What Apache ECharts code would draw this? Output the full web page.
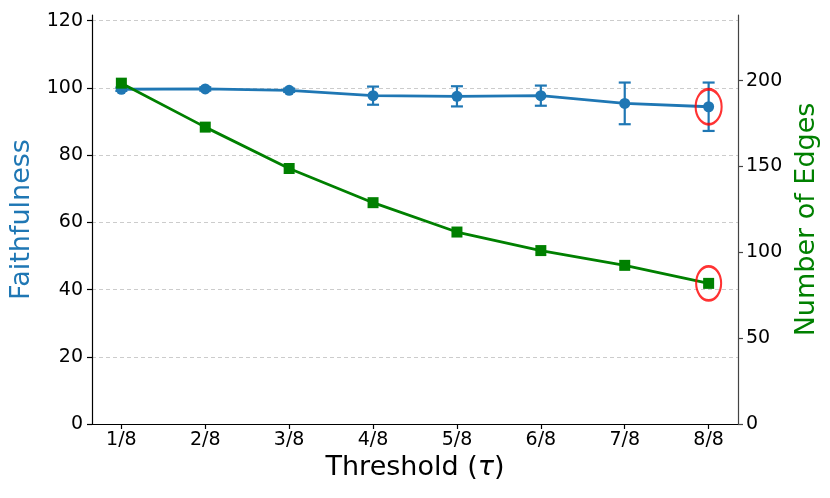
<!DOCTYPE html>
<html>
<head>
<meta charset="utf-8">
<script src="https://cdn.jsdelivr.net/npm/echarts@6/dist/echarts.min.js"></script>
<style>
  html, body { margin: 0; padding: 0; background: #fff; }
  #chart { width: 830px; height: 498px; }
</style>
</head>
<body>
<div id="chart"></div>
<script>
// ---- data ----
const categories = ['1/8', '2/8', '3/8', '4/8', '5/8', '6/8', '7/8', '8/8'];
const faithfulness = [99.6, 99.7, 99.3, 97.7, 97.5, 97.7, 95.4, 94.4];
const faithfulnessErr = [0.5, 0.5, 0.5, 2.7, 3.0, 3.0, 6.2, 7.2];
const edges = [198.5, 172.9, 148.8, 128.9, 111.8, 101.0, 92.4, 81.9];
const highlightIndex = 7;
const leftTicks = [0, 20, 40, 60, 80, 100, 120];
const rightTicks = [0, 50, 100, 150, 200];

// ---- build ----
const xPos = categories.map((c, i) => i + 1);
const faithData = xPos.map((x, i) => [x, faithfulness[i]]);
const errData = xPos.map((x, i) => [x, faithfulness[i], faithfulnessErr[i]]);
const edgeData = xPos.map((x, i) => [x, edges[i]]);

const FONT = 'DejaVu Sans';
const BLUE = '#1f77b4';
const GREEN = '#008000';

const chart = echarts.init(document.getElementById('chart'), null, { renderer: 'canvas' });
chart.setOption({
  animation: false,
  backgroundColor: '#fff',
  grid: { left: 92, right: 92, top: 15, bottom: 74, containLabel: false },
  xAxis: {
    type: 'value',
    min: 0.65,
    max: 8.35,
    name: '{a|Threshold (}{b|τ}{a|)}',
    nameLocation: 'middle',
    nameGap: 27,
    nameTextStyle: {
      rich: {
        a: { fontFamily: FONT, fontSize: 27, color: '#000' },
        b: { fontFamily: FONT, fontSize: 27, fontStyle: 'italic', color: '#000' }
      }
    },
    axisLine: { show: true, onZero: false, lineStyle: { color: '#000', width: 1.2 } },
    axisTick: { show: true, length: 5, customValues: xPos, lineStyle: { color: '#000', width: 1.2 } },
    axisLabel: {
      customValues: xPos,
      formatter: v => categories[Math.round(v) - 1] || '',
      fontFamily: FONT, fontSize: 19, color: '#000', margin: 7
    },
    splitLine: { show: false }
  },
  yAxis: [
    {
      type: 'value',
      min: 0,
      max: 121.7,
      position: 'left',
      name: 'Faithfulness',
      nameLocation: 'middle',
      nameGap: 54,
      nameTextStyle: { fontFamily: FONT, fontSize: 27, color: BLUE },
      axisLine: { show: true, lineStyle: { color: '#000', width: 1.2 } },
      axisTick: { show: true, length: 5, customValues: leftTicks, lineStyle: { color: '#000', width: 1.2 } },
      axisLabel: { customValues: leftTicks, fontFamily: FONT, fontSize: 19, color: '#000', margin: 9 },
      splitLine: { show: true, lineStyle: { color: '#cccccc', type: [4, 3], width: 1 } }
    },
    {
      type: 'value',
      min: 0,
      max: 238.2,
      position: 'right',
      name: 'Number of Edges',
      nameLocation: 'middle',
      nameGap: 50,
      nameRotate: 90,
      nameTextStyle: { fontFamily: FONT, fontSize: 27, color: GREEN },
      axisLine: { show: true, lineStyle: { color: '#444', width: 1.2 } },
      axisTick: { show: true, length: 5, customValues: rightTicks, lineStyle: { color: '#444', width: 1.2 } },
      axisLabel: { customValues: rightTicks, fontFamily: FONT, fontSize: 19, color: '#000', margin: 8 },
      splitLine: { show: false }
    }
  ],
  series: [
    {
      name: 'Faithfulness',
      type: 'line',
      yAxisIndex: 0,
      data: faithData,
      symbol: 'circle',
      symbolSize: 11,
      lineStyle: { color: BLUE, width: 2.8 },
      itemStyle: { color: BLUE },
      z: 3
    },
    {
      name: 'FaithErr',
      type: 'custom',
      yAxisIndex: 0,
      data: errData,
      renderItem: function (params, api) {
        const x = api.value(0), y = api.value(1), e = api.value(2);
        const top = api.coord([x, y + e]);
        const bot = api.coord([x, y - e]);
        const hw = 6;
        const st = { stroke: BLUE, lineWidth: 2.2 };
        return {
          type: 'group',
          children: [
            { type: 'line', shape: { x1: top[0], y1: top[1], x2: bot[0], y2: bot[1] }, style: st },
            { type: 'line', shape: { x1: top[0] - hw, y1: top[1], x2: top[0] + hw, y2: top[1] }, style: st },
            { type: 'line', shape: { x1: bot[0] - hw, y1: bot[1], x2: bot[0] + hw, y2: bot[1] }, style: st }
          ]
        };
      },
      encode: { x: 0, y: 1 },
      z: 3
    },
    {
      name: 'Edges',
      type: 'line',
      yAxisIndex: 1,
      data: edgeData,
      symbol: 'rect',
      symbolSize: 11,
      lineStyle: { color: GREEN, width: 2.8 },
      itemStyle: { color: GREEN },
      z: 4
    },
    {
      name: 'HighlightFaith',
      type: 'scatter',
      yAxisIndex: 0,
      data: [faithData[highlightIndex]],
      symbol: 'circle',
      symbolSize: [26, 35],
      itemStyle: { color: 'rgba(0,0,0,0)', borderColor: '#ff0000', borderWidth: 2.4 },
      z: 6
    },
    {
      name: 'HighlightEdges',
      type: 'scatter',
      yAxisIndex: 1,
      data: [edgeData[highlightIndex]],
      symbol: 'circle',
      symbolSize: [25, 34],
      itemStyle: { color: 'rgba(0,0,0,0)', borderColor: '#ff0000', borderWidth: 2.4 },
      z: 6
    }
  ]
});
</script>
</body>
</html>
